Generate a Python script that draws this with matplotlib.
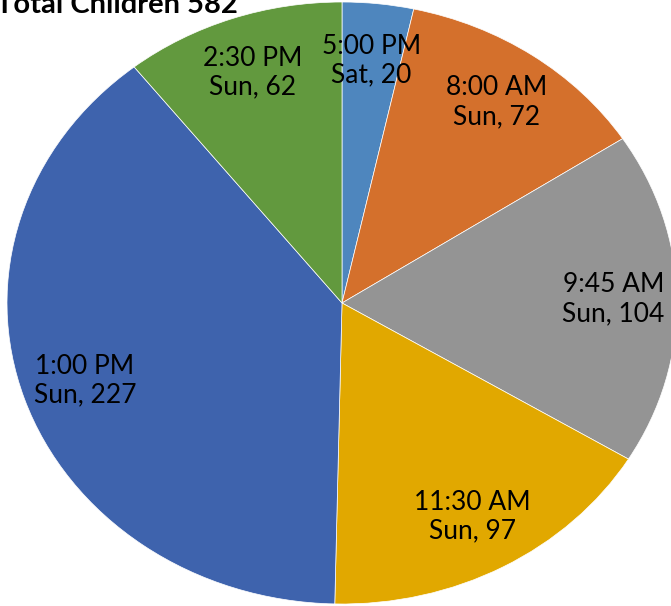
import matplotlib
matplotlib.use("Agg")
import matplotlib.pyplot as plt

# données
times = ["5:00 PM", "8:00 AM", "9:45 AM", "11:30 AM", "1:00 PM", "2:30 PM"]
days = ["Sat", "Sun", "Sun", "Sun", "Sun", "Sun"]
children = [20, 72, 104, 97, 227, 62]
colors = ["#4E86BE", "#D4702C", "#949494", "#E1A800", "#3E63AD", "#62993E"]

plt.rcParams['font.family'] = ['Lato', 'DejaVu Sans']

fig = plt.figure(figsize=(6.71, 6.06), dpi=100)
# axes un peu plus large que haut -> camembert elliptique comme l'original
ax = fig.add_axes([7 / 671, 2 / 606, 670 / 671, 602 / 606])

labels = [f"{t}\n{d}, {v}" for t, d, v in zip(times, days, children)]
wedges, texts = ax.pie(
    children,
    labels=labels,
    colors=colors,
    startangle=90,
    counterclock=False,
    labeldistance=0.81,
    wedgeprops=dict(edgecolor="white", linewidth=0.5),
    textprops=dict(fontsize=19, color="black", linespacing=1.2),
)
for t in texts:
    t.set_ha("center")
    t.set_va("center")

ax.set_aspect("auto")
ax.set_xlim(-1, 1)
ax.set_ylim(-1, 1)
ax.axis("off")

total = sum(children)
fig.text(-0.006, 1 - 13 / 606, f"Total Children {total}", fontsize=21,
         fontweight="bold", ha="left", va="baseline")

fig.savefig("out.png", dpi=100)
plt.close(fig)
